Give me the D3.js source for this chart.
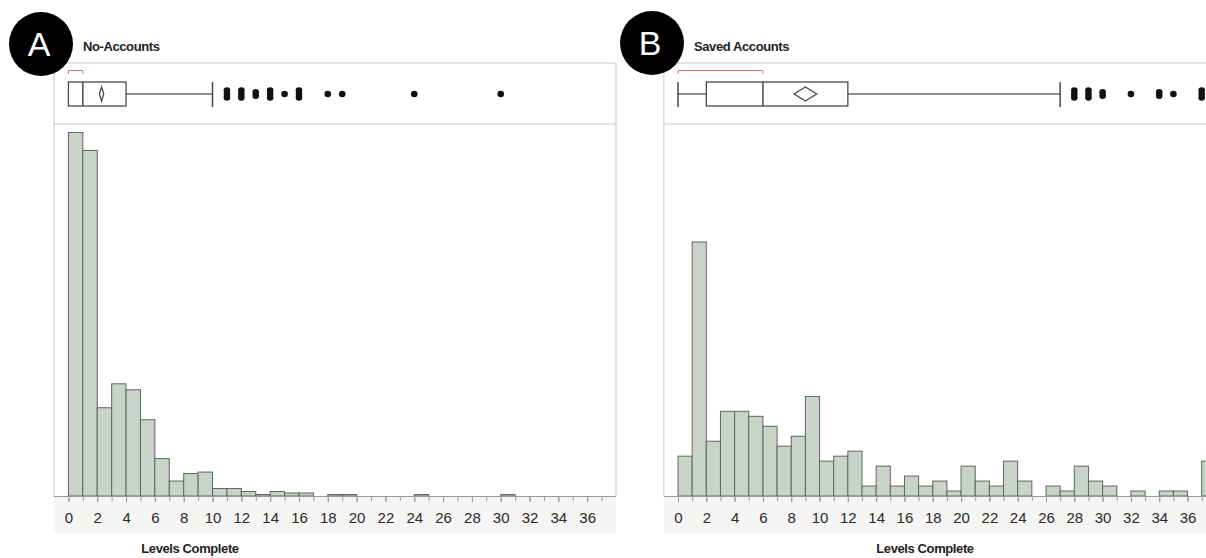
<!DOCTYPE html>
<meta charset="utf-8">
<style>
  body { margin: 0; background: #fff; }
  svg { display: block; font-family: "Liberation Sans", Arial, sans-serif; }
  .frame { fill: none; stroke: #c8c8c8; stroke-width: 1; }
  .bar { fill: #c9d4c9; stroke: #5f665f; stroke-width: 1; }
  .axis path.domain { stroke: #9a9a9a; }
  .axis line { stroke: #9a9a9a; }
  .axis text { fill: #2a2a2a; font-size: 15px; }
  .title { font-size: 13px; font-weight: bold; fill: #222; letter-spacing: -0.4px; }
  .xlabel { font-size: 13px; font-weight: bold; fill: #222; letter-spacing: -0.4px; }
  .letter { fill: #fff; font-size: 34px; }
  .box { fill: #fff; stroke: #4a4a4a; stroke-width: 1.3; }
  .whisker { stroke: #6a6a6a; stroke-width: 1.5; }
  .cap { stroke: #4a4a4a; stroke-width: 1.5; }
  .shorth { fill: none; stroke: #d9707a; stroke-width: 1; }
</style>
<body></body>
<script src="https://cdn.jsdelivr.net/npm/d3@7"></script>
<script>

// bins 0..37 (one level per bin)
var bins = d3.range(0, 38);
var tickLabels = [0, 2, 4, 6, 8, 10, 12, 14, 16, 18, 20, 22, 24, 26, 28, 30, 32, 34, 36];

var countsA = [243, 231, 59, 75, 71, 51, 25, 10, 15, 16, 5, 5, 3, 1, 3, 2, 2, 0, 1, 1,
               0, 0, 0, 0, 1, 0, 0, 0, 0, 0, 1, 0, 0, 0, 0, 0, 0, 0];
var countsB = [8, 51, 11, 17, 17, 16, 14, 10, 12, 20, 7, 8, 9, 2, 6, 2, 4, 2, 3, 1,
               6, 3, 2, 7, 3, 0, 2, 1, 6, 3, 2, 0, 1, 0, 1, 1, 0, 7];

// box plot summaries: [min whisker, q1, median, q3, max whisker]
var boxA = [0, 0, 1, 4, 10];
var boxB = [0, 2, 6, 12, 27];
// mean diamond: [ci low, mean, ci high]
var meanA = [2.15, 2.3, 2.45];
var meanB = [8.2, 9.0, 9.8];
// shortest half bracket
var shorthA = [0, 1];
var shorthB = [0, 6];

var outliersA = [11, 11, 11, 12, 12, 12, 13, 13, 14, 14, 14, 15, 16, 16, 16, 18, 19, 24, 30];
var outliersB = [28, 28, 28, 29, 29, 29, 30, 30, 32, 34, 34, 35, 37, 37, 37];

var panels = [
  {letter: "A", title: "No-Accounts", counts: countsA, yMax: 248, box: boxA, mean: meanA,
   shorth: shorthA, outliers: outliersA, left: 54, width: 562, cx: 41, cy: 44, labelX: 190},
  {letter: "B", title: "Saved Accounts", counts: countsB, yMax: 74.5, box: boxB, mean: meanB,
   shorth: shorthB, outliers: outliersB, left: 663.85, width: 552, cx: 652, cy: 43, labelX: 925}
];

var W = 1206, H = 558;
var frameTop = 63, sepY = 124, baseY = 496, bandBottom = 533;
var boxTop = 82, boxBottom = 106, boxMid = 94;

var svg = d3.select("body").append("svg")
    .attr("width", W)
    .attr("height", H);

svg.append("rect").attr("width", W).attr("height", H).attr("fill", "#fff");

panels.forEach(function(p) {
  var x = d3.scaleLinear()
      .domain([-1, 38])
      .range([p.left, p.left + p.width]);

  var y = d3.scaleLinear()
      .domain([0, p.yMax])
      .range([baseY, baseY - 371]);

  var g = svg.append("g");

  // light band behind the tick labels
  g.append("rect")
      .attr("x", p.left)
      .attr("y", baseY)
      .attr("width", p.width)
      .attr("height", bandBottom - baseY)
      .attr("fill", "#f5f5f3");

  // frame
  g.append("path")
      .attr("class", "frame")
      .attr("d", "M" + p.left + "," + baseY + "V" + frameTop + "H" + (p.left + p.width) + "V" + baseY);
  g.append("line")
      .attr("class", "frame")
      .attr("x1", p.left).attr("x2", p.left + p.width)
      .attr("y1", sepY).attr("y2", sepY);

  // histogram
  g.selectAll("rect.bar")
      .data(bins.filter(function(b) { return p.counts[b] > 0; }))
      .enter().append("rect")
      .attr("class", "bar")
      .attr("x", function(b) { return x(b); })
      .attr("width", function(b) { return x(b + 1) - x(b); })
      .attr("y", function(b) { return y(p.counts[b]); })
      .attr("height", function(b) { return baseY - y(p.counts[b]); });

  // minor ticks every level
  g.append("g")
      .attr("class", "axis")
      .attr("transform", "translate(0," + baseY + ")")
      .call(d3.axisBottom(x).tickValues(bins).tickSize(5).tickFormat(""))
      .select(".domain").remove();

  // labelled ticks
  var ax = g.append("g")
      .attr("class", "axis")
      .attr("transform", "translate(0," + baseY + ")")
      .call(d3.axisBottom(x).tickValues(tickLabels).tickSize(6).tickSizeOuter(0).tickPadding(10));
  ax.select(".domain").attr("d", "M" + p.left + ",0.5H" + (p.left + p.width));

  g.append("text")
      .attr("class", "xlabel")
      .attr("x", p.labelX)
      .attr("y", 553)
      .attr("text-anchor", "middle")
      .text("Levels Complete");

  // box plot
  var b = p.box;
  g.append("path")
      .attr("class", "shorth")
      .attr("d", "M" + x(p.shorth[0]) + ",74V70.5H" + x(p.shorth[1]) + "V74");
  g.append("line").attr("class", "whisker")
      .attr("x1", x(b[0])).attr("x2", x(b[1])).attr("y1", boxMid).attr("y2", boxMid);
  g.append("line").attr("class", "whisker")
      .attr("x1", x(b[3])).attr("x2", x(b[4])).attr("y1", boxMid).attr("y2", boxMid);
  [b[0], b[4]].forEach(function(v) {
    if (v === b[1]) return;
    g.append("line").attr("class", "cap")
        .attr("x1", x(v)).attr("x2", x(v)).attr("y1", boxTop).attr("y2", boxBottom + 1);
  });
  g.append("rect").attr("class", "box")
      .attr("x", x(b[1])).attr("y", boxTop)
      .attr("width", x(b[3]) - x(b[1])).attr("height", boxBottom - boxTop);
  g.append("line").attr("class", "cap")
      .attr("x1", x(b[2])).attr("x2", x(b[2])).attr("y1", boxTop).attr("y2", boxBottom);
  g.append("path")
      .attr("class", "box")
      .attr("d", "M" + x(p.mean[0]) + "," + boxMid + "L" + x(p.mean[1]) + "," + (boxMid - 7) +
                 "L" + x(p.mean[2]) + "," + boxMid + "L" + x(p.mean[1]) + "," + (boxMid + 7) + "Z");

  // outliers, stacked where several share a level
  var seen = {};
  var pts = p.outliers.map(function(v) {
    seen[v] = (seen[v] || 0) + 1;
    return {v: v, k: seen[v] - 1, n: p.outliers.filter(function(o) { return o === v; }).length};
  });
  g.selectAll("circle.out")
      .data(pts)
      .enter().append("circle")
      .attr("class", "out")
      .attr("cx", function(d) { return x(d.v); })
      .attr("cy", function(d) { return boxMid + (d.k - (d.n - 1) / 2) * 3.5; })
      .attr("r", 3.3)
      .attr("fill", "#111");

  // title and letter badge
  g.append("text")
      .attr("class", "title")
      .attr("x", p.cx + 42)
      .attr("y", 51)
      .text(p.title);
  g.append("circle")
      .attr("cx", p.cx).attr("cy", p.cy).attr("r", 32)
      .attr("fill", "#000");
  g.append("text")
      .attr("class", "letter")
      .attr("x", p.cx - 2)
      .attr("y", p.cy + 12)
      .attr("text-anchor", "middle")
      .text(p.letter);
});

</script>
